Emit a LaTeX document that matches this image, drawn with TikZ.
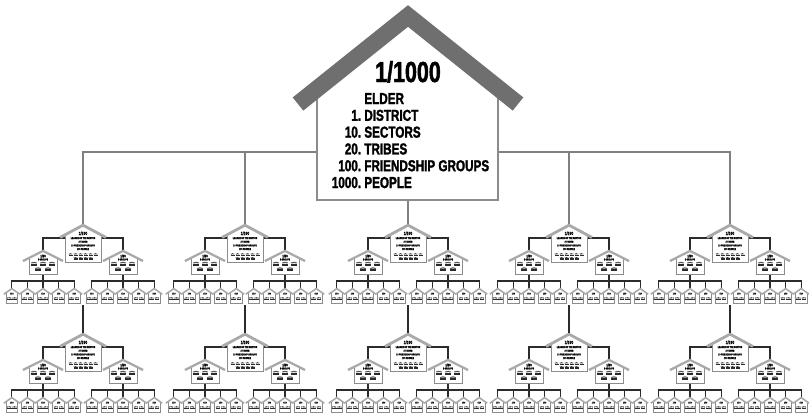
\documentclass[tikz,border=0pt]{standalone}
\usepackage{fontspec}
\newfontfamily\signfont{Liberation Sans Bold}[FakeStretch=0.74, FakeBold=1.6]
\definecolor{roofgray}{HTML}{6F6F6F}
\definecolor{wallgray}{HTML}{8C8C8C}
\definecolor{feedgray}{HTML}{808080}
\definecolor{ink}{HTML}{2B2B2B}

\tikzset{
  bigroof/.style={draw=roofgray, line width=9.6pt, line join=miter},
  bigwall/.style={draw=wallgray, line width=1.6pt},
  feed/.style={draw=feedgray, line width=1.1pt},
  link/.style={draw=ink, line width=0.75pt},
  hroof/.style={draw=roofgray!60, line join=miter},
  hwall/.style={draw=wallgray, line width=0.55pt},
  headline/.style={inner sep=0pt, anchor=base, font=\signfont\fontsize{16.5}{18}\selectfont},
  rankline/.style={inner sep=0pt, anchor=base west, font=\signfont\fontsize{9}{10}\selectfont},
  minititle/.style={inner sep=0pt, anchor=base, font=\signfont\fontsize{2.6}{3}\selectfont},
  miniline/.style={inner sep=0pt, anchor=base, font=\signfont\fontsize{1.5}{1.8}\selectfont},
  % a little group of people
  folk/.pic={
    \fill[ink] (-1.3,-0.8) circle (0.55) (0,-1) circle (0.6) (1.3,-0.8) circle (0.55);
    \fill[ink] (-2,-0.3) rectangle (2,1.1);
  },
  % house of a friendship group
  friendhouse/.pic={
    \fill[white] (-5.8,15) -- (-5.8,4.7) -- (0,0.6) -- (5.8,4.7) -- (5.8,15) -- cycle;
    \draw[hwall] (-5.8,4.8) -- (-5.8,15) -- (5.8,15) -- (5.8,4.8);
    \draw[hroof, line width=0.9pt] (-8,6.2) -- (0,0.6) -- (8,6.2);
    \node[miniline, font=\signfont\fontsize{1.3}{1.5}\selectfont] (-label) at (0,6.4) {1/10};
    \pic[scale=1.2] at (-2.7,11) {folk};
    \pic[scale=1.2] at (2.7,11) {folk};
  },
  % house of a tribe
  tribehouse/.pic={
    \fill[white] (-14,24) -- (-14,8) -- (0,0.9) -- (14,8) -- (14,24) -- cycle;
    \draw[hwall] (-14,8.2) -- (-14,24) -- (14,24) -- (14,8.2);
    \draw[hroof, line width=1.3pt] (-20,11) -- (0,0.9) -- (20,11);
    \node[minititle, font=\signfont\fontsize{2.1}{2.4}\selectfont] (-title) at (0,7.4) {1/50};
    \node[miniline] (-line) at (0,10.4) {5 GROUPS};
    \foreach \k in {0,...,2} \pic[scale=1.5] at (-9+9*\k,14) {folk};
    \foreach \k in {0,1} \pic[scale=1.5] at (-5+10*\k,19.5) {folk};
  },
  % house of a sector
  sectorhouse/.pic={
    \fill[white] (-18,38) -- (-18,10.5) -- (0,1.2) -- (18,10.5) -- (18,38) -- cycle;
    \draw[hwall] (-18,10.5) -- (-18,38) -- (18,38) -- (18,10.5);
    \draw[hroof, line width=1.6pt] (-23,13.5) -- (0,1.2) -- (23,13.5);
    \node[minititle] (-title) at (0,11) {1/100};
    \node[miniline] (-l1) at (0,15) {LEADER OF THE SECTOR};
    \node[miniline] (-l2) at (0,18.6) {2 TRIBES};
    \node[miniline] (-l3) at (0,22.4) {10 FRIENDSHIP GROUPS};
    \node[miniline] (-l4) at (0,26) {100 PEOPLE};
    \foreach \k in {0,...,5} \pic at (-12.5+5*\k,30.8) {folk};
    \foreach \k in {0,...,3} \pic at (-7.5+5*\k,34.6) {folk};
  },
  % one sector with its tribes and friendship groups
  sector/.pic={
    \coordinate (-top) at (0,0);
    \coordinate (-foot) at (0,81);
    \coordinate (-lside) at (-18,14);
    \coordinate (-rside) at (18,14);
    \coordinate (-ltribe) at (-40,26);
    \coordinate (-rtribe) at (40,26);
    \coordinate (-lbar) at (-40,57);
    \coordinate (-rbar) at (40,57);
    \foreach \k in {0,...,4} {
      \coordinate (-lf\k) at (-71.2+15.6*\k,64);
      \coordinate (-rf\k) at (8.8+15.6*\k,64);
    }
    \draw[link] (-lside) -| (-ltribe);
    \draw[link] (-rside) -| (-rtribe);
    \draw[link] (-ltribe) -- (-lbar);
    \draw[link] (-rtribe) -- (-rbar);
    \foreach \k in {0,...,4} {
      \draw[link] (-lbar) -| (-lf\k);
      \draw[link] (-rbar) -| (-rf\k);
    }
    \pic at (-top) {sectorhouse};
    \pic at (-ltribe) {tribehouse};
    \pic at (-rtribe) {tribehouse};
    \foreach \k in {0,...,4} {
      \pic at (-lf\k) {friendhouse};
      \pic at (-rf\k) {friendhouse};
    }
  }
}

\begin{document}
\begin{tikzpicture}[x=0.02cm, y=-0.02cm]
  \path[fill=white, use as bounding box] (0,0) rectangle (809,416);
  % where the sectors hang
  \foreach \c [count=\i] in {83,245,408,569,730} {
    \coordinate (up\i) at (\c,224);
    \coordinate (low\i) at (\c,333);
  }
  \coordinate (lwall) at (317,152);
  \coordinate (rwall) at (498,152);
  \coordinate (hbase) at (408,200);
  % feeders from the elder's house
  \draw[feed] (lwall) -| (up1);
  \draw[feed] (lwall) -| (up2);
  \draw[feed] (rwall) -| (up4);
  \draw[feed] (rwall) -| (up5);
  \draw[feed] (hbase) -- (up3);
  % the elder's house
  \draw[bigwall] (317,92) -- (317,200) -- (498,200) -- (498,92);
  \draw[bigroof] (298,104) -- (408,16) -- (518,104);
  \node[headline] (title) at (408,82) {1/1000};
  \foreach \num/\word [count=\r] in {/ELDER, 1./DISTRICT, 10./SECTORS, 20./TRIBES,
      100./FRIENDSHIP GROUPS, 1000./PEOPLE}
    \node[rankline] (rank\r) at (364,87.2+16.8*\r) {\llap{\num\ }\word};
  % two rows of sectors
  \foreach \i in {1,...,5} {
    \pic (s\i) at (up\i) {sector};
    \pic (t\i) at (low\i) {sector};
    \draw[link] (s\i-foot) -- (t\i-top);
  }
\end{tikzpicture}
\end{document}
